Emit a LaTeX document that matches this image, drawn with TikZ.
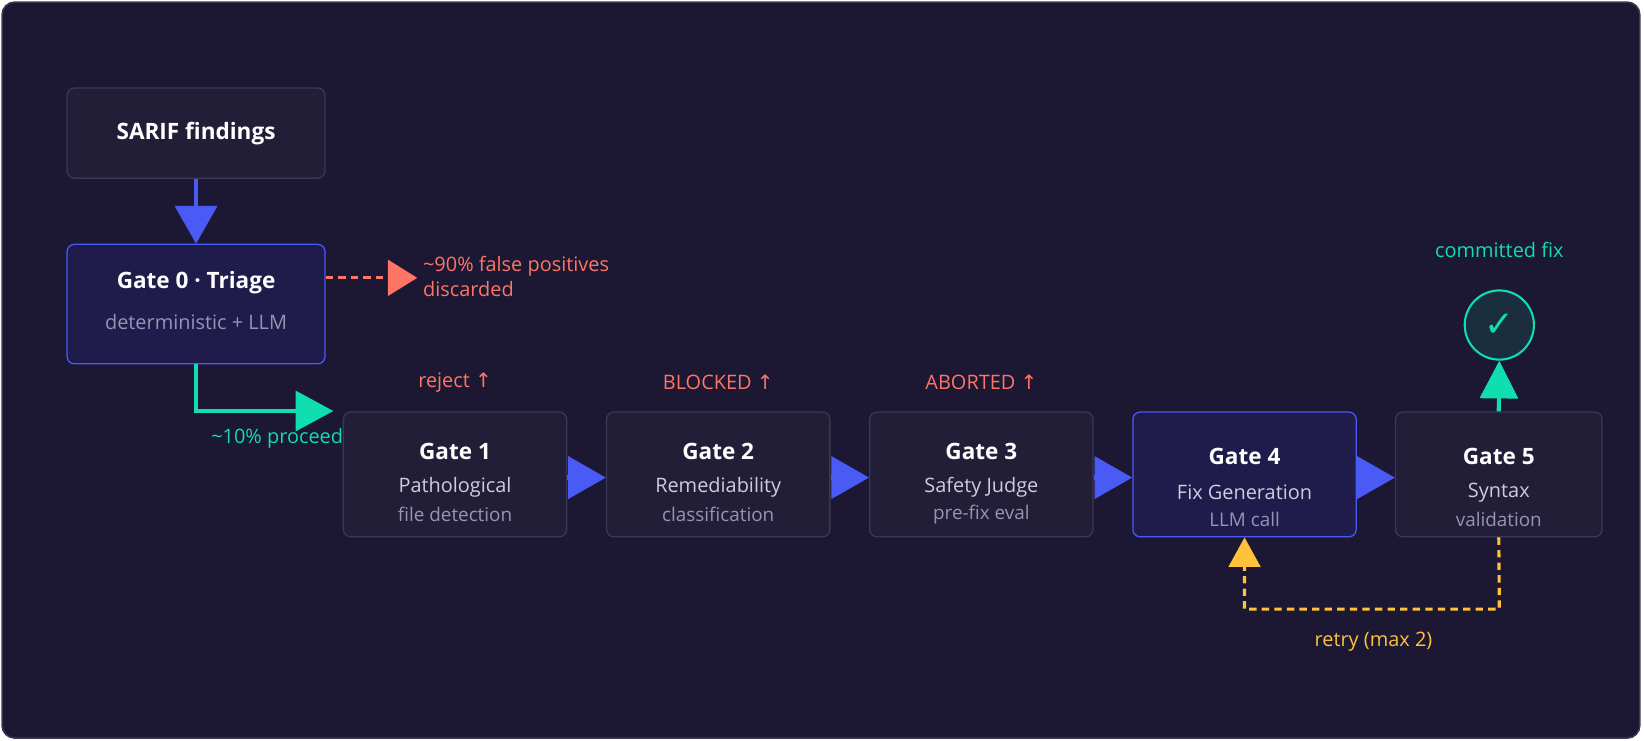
\documentclass[tikz,border=0pt]{standalone}
\usepackage{fontspec}
\setmainfont{Open Sans}
\newfontfamily\symfont{DejaVu Sans}
\usetikzlibrary{arrows.meta,positioning}
\definecolor{bgpanel}{HTML}{1C1733}
\definecolor{boxfill}{HTML}{231E38}
\definecolor{boxline}{HTML}{3C3752}
\definecolor{gatefill}{HTML}{1F1B4A}
\definecolor{flowblue}{HTML}{4A5AF5}
\definecolor{okgreen}{HTML}{10DDB0}
\definecolor{failred}{HTML}{FF7565}
\definecolor{retryyellow}{HTML}{FFC23A}
\definecolor{subgray}{HTML}{9892B4}
\definecolor{midgray}{HTML}{CFCBE0}
\definecolor{checkfill}{HTML}{1A2E40}
\begin{document}
\begin{tikzpicture}
[x=1pt,y=-1pt,
box/.style={rectangle,rounded corners=7pt,draw=boxline,line width=1.2pt,fill=boxfill,text=white,align=center},
gate/.style={box,minimum width=213pt,minimum height=119pt},
hotgate/.style={gate,draw=flowblue,fill=gatefill},
note/.style={font=\fontsize{19}{24}\selectfont},
flow/.style={draw=flowblue,line width=4pt,-{Triangle[length=36pt,width=40pt]}},
pass/.style={draw=okgreen,line width=4pt,-{Triangle[length=36pt,width=38pt]}},
ttl/.style={font=\fontsize{21.5}{25}\selectfont\bfseries}
]
\fill[bgpanel,draw=boxline,line width=1.5pt,rounded corners=12pt] (2,2) rectangle (1564,704);
\useasboundingbox (0,0) rectangle (1568,706);
% input and triage
\node[box,minimum width=246pt,minimum height=86pt,font=\fontsize{21.5}{25}\selectfont\bfseries] (sarif) at (187,127) {SARIF findings};
\node[box,draw=flowblue,fill=gatefill,minimum width=246pt,minimum height=114pt] (triage) at (187,290) {};
\node[ttl,text=white] at (187,270) {Gate 0 · Triage};
\node[font=\fontsize{19}{22}\selectfont,text=subgray] at (187,307) {deterministic + LLM};
\draw[flow] (sarif) -- (triage);
\coordinate (drop) at (398,265);
\draw[failred,line width=3pt,dash pattern=on 7pt off 5pt,-{Triangle[length=28pt,width=34pt]}] (triage.east |- drop) -- (drop);
\node[note,text=failred,anchor=west,align=left] at (400,264) {\textasciitilde90\% false positives\\discarded};
% gate row
\foreach \n/\x/\s in {1/434/gate,2/685/gate,3/936/gate,4/1187/hotgate}{
  \node[\s] (g\n) at (\x,452.5) {};
}
\node[gate,minimum width=197pt] (g5) at (1429.5,452.5) {};
\foreach \n/\a/\b/\dy in {1/Pathological/file detection/0,2/Remediability/classification/0,3/Safety Judge/pre-fix eval/0,4/Fix Generation/LLM call/5,5/Syntax/validation/5}{
  \node[ttl,text=white] at ([yshift=22-\dy]g\n.center) {Gate \n};
  \node[font=\fontsize{19}{22}\selectfont,text=midgray] at ([yshift=-12-\dy]g\n.center) {\a};
  \node[font=\fontsize{18}{20}\selectfont,text=subgray] at ([yshift=-38-\dy]g\n.center) {\b};
}
\foreach \a/\b in {g1/g2,g2/g3,g3/g4,g4/g5}{
  \draw[flow] ([yshift=-3]\a.east) -- ([yshift=-3]\b.west);
}
% stop labels
\node[note,text=failred] at (434,365) {reject {\symfont↑}};
\node[note,text=failred] at (685,365) {BLOCKED {\symfont↑}};
\node[note,text=failred] at (936,365) {ABORTED {\symfont↑}};
% proceed branch
\coordinate (enter) at (318,392);
\draw[pass,line width=3.5pt] (triage.south) |- (enter);
\node[note,text=okgreen,anchor=west] at (198,418) {\textasciitilde10\% proceed};
% commit
\node[circle,draw=okgreen,line width=2pt,fill=checkfill,minimum size=66pt] (done) at (1430,310) {};
\node[text=okgreen,font=\symfont\fontsize{34}{34}\selectfont] at (done) {✓};
\draw[pass,-{Triangle[length=36pt,width=36pt]}] (g5.north) -- (done.south);
\node[note,text=okgreen] at (1430,238) {committed fix};
% retry loop
\coordinate (loop) at (1430,581);
\draw[retryyellow,line width=3pt,dash pattern=on 7pt off 5pt,-{Triangle[length=28pt,width=30pt]}] (g5.south) -- (loop) -| (g4.south);
\node[note,text=retryyellow] at (1310,612) {retry (max 2)};
\end{tikzpicture}
\end{document}
